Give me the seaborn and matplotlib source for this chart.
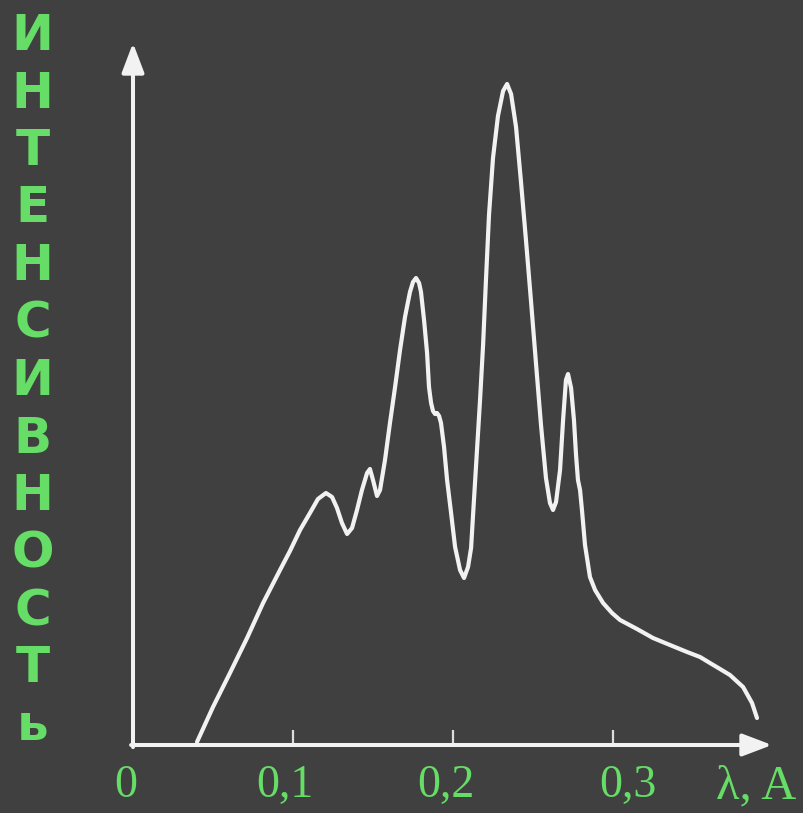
import matplotlib
matplotlib.use("Agg")
import matplotlib.pyplot as plt
from matplotlib.transforms import ScaledTranslation
import seaborn as sns

# ---- data ----
wavelength = [0.0400, 0.0500, 0.0606, 0.0713, 0.0813, 0.0919, 0.0981, 0.1044, 0.1106, 0.1156,
              0.1206, 0.1244, 0.1275, 0.1306, 0.1338, 0.1369, 0.1400, 0.1431, 0.1463, 0.1481,
              0.1500, 0.1525, 0.1544, 0.1575, 0.1606, 0.1638, 0.1669, 0.1700, 0.1731, 0.1750,
              0.1769, 0.1788, 0.1800, 0.1819, 0.1838, 0.1850, 0.1863, 0.1875, 0.1888, 0.1900,
              0.1913, 0.1925, 0.1944, 0.1963, 0.1988, 0.2013, 0.2044, 0.2069, 0.2094, 0.2113,
              0.2131, 0.2150, 0.2169, 0.2188, 0.2206, 0.2225, 0.2250, 0.2281, 0.2313, 0.2338,
              0.2363, 0.2394, 0.2425, 0.2456, 0.2488, 0.2519, 0.2550, 0.2581, 0.2606, 0.2625,
              0.2644, 0.2669, 0.2688, 0.2706, 0.2719, 0.2738, 0.2756, 0.2769, 0.2781, 0.2794,
              0.2806, 0.2825, 0.2856, 0.2888, 0.2938, 0.2994, 0.3044, 0.3150, 0.3250, 0.3356,
              0.3463, 0.3544, 0.3606, 0.3669, 0.3731, 0.3813, 0.3869, 0.3900]
intensity = [3, 38, 72, 107, 142, 175, 194, 215, 232, 246,
             252, 248, 237, 222, 211, 217, 235, 255, 272, 276,
             265, 249, 255, 285, 322, 358, 395, 428, 453, 463,
             467, 462, 453, 425, 392, 358, 342, 334, 331, 332,
             329, 322, 298, 265, 232, 198, 175, 167, 178, 197,
             245, 295, 345, 400, 465, 530, 587, 629, 654, 661,
             651, 618, 563, 505, 443, 381, 320, 267, 242, 235,
             243, 275, 325, 365, 371, 357, 325, 290, 265, 255,
             235, 200, 168, 155, 142, 132, 125, 116, 107, 100,
             93, 88, 82, 76, 70, 58, 42, 27]
tick_values = [0.0, 0.1, 0.2, 0.3]
tick_labels = ["0", "0,1", "0,2", "0,3"]
y_label = "ИНТЕНСИВНОСТь"
x_label = "λ, A"

BG = "#404040"
FG = "#f2f2f2"
GREEN = "#66dd66"

W, H = 804, 813
fig = plt.figure(figsize=(W / 100, H / 100), dpi=100)
fig.patch.set_facecolor(BG)
ax = fig.add_axes([133 / W, (H - 745) / H, (772 - 133) / W, (745 - 43) / H])
ax.set_facecolor(BG)

sns.lineplot(x=wavelength, y=intensity, ax=ax, color=FG, lw=3.0, sort=False,
             estimator=None, solid_joinstyle="round", solid_capstyle="round")

ax.set_xlim(0, 0.399375)
ax.set_ylim(0, 702)
for s in ax.spines.values():
    s.set_visible(False)

# axis arrows
arrow = dict(arrowstyle="-|>,head_length=1.0,head_width=0.38", mutation_scale=18,
             color=FG, lw=2.9, shrinkA=0, shrinkB=0)
ax.annotate("", xy=(1, 0), xycoords="axes fraction", xytext=(-0.003, 0),
            textcoords="axes fraction", arrowprops=arrow, annotation_clip=False)
ax.annotate("", xy=(0, 1), xycoords="axes fraction", xytext=(0, -0.003),
            textcoords="axes fraction", arrowprops=arrow, annotation_clip=False)

ax.set_yticks([])
ax.set_xticks(tick_values)
ax.set_xticklabels(tick_labels, family="Liberation Serif")
ax.tick_params(axis="x", direction="in", length=10.8, width=1.6, color="#dddddd",
               labelcolor=GREEN, labelsize=33, pad=14)
offsets = [-7, -8, -7, 15]
for lab, dx in zip(ax.get_xticklabels(), offsets):
    lab.set_transform(lab.get_transform() + ScaledTranslation(dx / 100, 0, fig.dpi_scale_trans))

# vertical letters of the y label
for i, ch in enumerate(y_label):
    fig.text(32.5 / W, 1 - (50 + i * 57.5) / H, ch, ha="center", va="baseline",
             fontsize=36, fontweight="bold", family="DejaVu Sans", color=GREEN)

fig.text(756 / W, (H - 798) / H, x_label, ha="center", va="baseline",
         fontsize=35, family="Liberation Serif", color=GREEN)

fig.savefig("out.png", dpi=100, facecolor=BG)
